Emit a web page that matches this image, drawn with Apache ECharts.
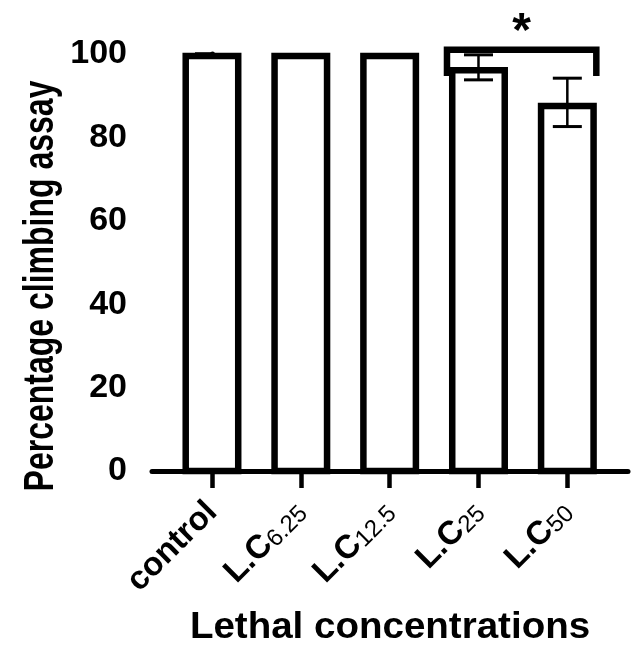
<!DOCTYPE html>
<html><head><meta charset="utf-8">
<script src="https://cdn.jsdelivr.net/npm/echarts@6/dist/echarts.min.js"></script>
<style>html,body{margin:0;padding:0;background:#fff}#c{width:632px;height:656px}</style>
</head><body><div id="c"></div>
<script>
const categories = ['control', 'L.C6.25', 'L.C12.5', 'L.C25', 'L.C50'];
const labelMain = ['control', 'L.C', 'L.C', 'L.C', 'L.C'];
const labelSub = ['', '6.25', '12.5', '25', '50'];
const meanValues = [100, 100, 100, 96.6, 88.0];
const errMeans = [100, 100, 100, 96.8, 88.4];
const sdValues = [0, 0, 0, 3.0, 5.8];
const yTicks = [0, 20, 40, 60, 80, 100];
const bracketPairs = [[3, 4]];
const bracketLevels = [[101, 94.7]];
const sigLabels = ['*'];
const xTitle = 'Lethal concentrations';
const yTitle = 'Percentage climbing assay';

const FONT = "'Liberation Sans', Arial, Helvetica, sans-serif";
const chart = echarts.init(document.getElementById('c'), null, {renderer: 'canvas'});

const barData = categories.map((c, i) => [i, meanValues[i]]);
const errData = categories.map((c, i) => [i, errMeans[i], sdValues[i]]).filter(d => d[2] > 0);
const brData = bracketPairs.map((p, k) => [p[0], p[1], bracketLevels[k][0], bracketLevels[k][1], k]);

chart.setOption({
  animation: false,
  backgroundColor: '#fff',
  grid: {left: 152, right: 4, top: 54, bottom: 185, containLabel: false},
  xAxis: {
    type: 'value', min: -0.675, max: 4.683,
    splitLine: {show: false},
    axisLine: {show: true, lineStyle: {color: '#000', width: 5}},
    axisTick: {show: true, length: 17, customValues: categories.map((c, i) => i), lineStyle: {color: '#000', width: 4.5}},
    axisLabel: {
      show: true, rotate: 45, margin: 36, customValues: categories.map((c, i) => i),
      formatter: v => {
        const i = Math.round(v);
        return labelSub[i] ? '{b|' + labelMain[i] + '}{s|' + labelSub[i] + '}' : '{b|' + labelMain[i] + '}';
      },
      rich: {
        b: {fontFamily: FONT, fontWeight: 'bold', fontSize: 33, color: '#000'},
        s: {fontFamily: FONT, fontWeight: 'normal', fontSize: 24, color: '#000', verticalAlign: 'bottom'}
      }
    }
  },
  yAxis: {
    type: 'value', min: 0, max: 100, interval: 20,
    splitLine: {show: false},
    axisLine: {show: true, lineStyle: {color: '#000', width: 5}},
    axisTick: {show: true, length: 17, lineStyle: {color: '#000', width: 4.5}},
    axisLabel: {
      margin: 25, color: '#000', fontFamily: FONT, fontWeight: 'bold', fontSize: 34,
      formatter: v => (yTicks.indexOf(v) >= 0 ? String(v) : '')
    }
  },
  graphic: [
    {type: 'text', x: 390, y: 628, scaleX: 1.07,
     style: {text: xTitle, font: 'bold 36px ' + FONT, fill: '#000', align: 'center', verticalAlign: 'middle', textAlign: 'center', textVerticalAlign: 'middle'}},
    {type: 'text', x: 42, y: 286, rotation: Math.PI / 2, scaleY: 1.3,
     style: {text: yTitle, font: 'bold 32px ' + FONT, fill: '#000', align: 'center', verticalAlign: 'middle', textAlign: 'center', textVerticalAlign: 'middle'}}
  ],
  series: [
    {
      type: 'custom', z: 3, clip: false,
      encode: {x: 0, y: 1},
      data: barData,
      renderItem: (params, api) => {
        const i = api.value(0), v = api.value(1);
        const top = api.coord([i, v]);
        const base = api.coord([i, 0]);
        const w = 52.5;
        return {type: 'rect', shape: {x: top[0] - w / 2, y: top[1] + 2, width: w, height: base[1] - top[1] - 2},
                style: {fill: '#fff', stroke: '#000', lineWidth: 6.5}};
      }
    },
    {
      type: 'custom', z: 4, clip: false,
      encode: {x: 0, y: 1},
      data: errData,
      renderItem: (params, api) => {
        const i = api.value(0), m = api.value(1), s = api.value(2);
        const hi = api.coord([i, m + s]), lo = api.coord([i, m - s]);
        const cw = 14.5;
        return {type: 'group', children: [
          {type: 'line', shape: {x1: hi[0], y1: hi[1], x2: lo[0], y2: lo[1]}, style: {stroke: '#000', lineWidth: 2.5}},
          {type: 'line', shape: {x1: hi[0] - cw, y1: hi[1], x2: hi[0] + cw, y2: hi[1]}, style: {stroke: '#000', lineWidth: 3}},
          {type: 'line', shape: {x1: lo[0] - cw, y1: lo[1], x2: lo[0] + cw, y2: lo[1]}, style: {stroke: '#000', lineWidth: 3}}
        ]};
      }
    },
    {
      type: 'custom', z: 5, clip: false,
      encode: {x: [0, 1], y: [2, 3]},
      data: brData,
      renderItem: (params, api) => {
        const a = api.value(0), b = api.value(1), lvl = api.value(2), foot = api.value(3), k = api.value(4);
        const p1 = api.coord([a, foot]), p2 = api.coord([a, lvl]), p3 = api.coord([b, lvl]), p4 = api.coord([b, foot]);
        const lo = -31.5, ro = 29;
        const cx = (p2[0] + lo + p3[0] + ro) / 2;
        return {type: 'group', children: [
          {type: 'polyline', shape: {points: [[p1[0] + lo, p1[1]], [p2[0] + lo, p2[1]], [p3[0] + ro, p3[1]], [p4[0] + ro, p4[1]]]},
           style: {stroke: '#000', lineWidth: 6.5, fill: null, lineJoin: 'miter', lineCap: 'butt'}},
          {type: 'text', x: cx, y: p2[1] - 17,
           style: {text: sigLabels[k], font: 'bold 48px ' + FONT, fill: '#000', align: 'center', verticalAlign: 'middle', textAlign: 'center', textVerticalAlign: 'middle'}}
        ]};
      }
    }
  ]
});
</script></body></html>
